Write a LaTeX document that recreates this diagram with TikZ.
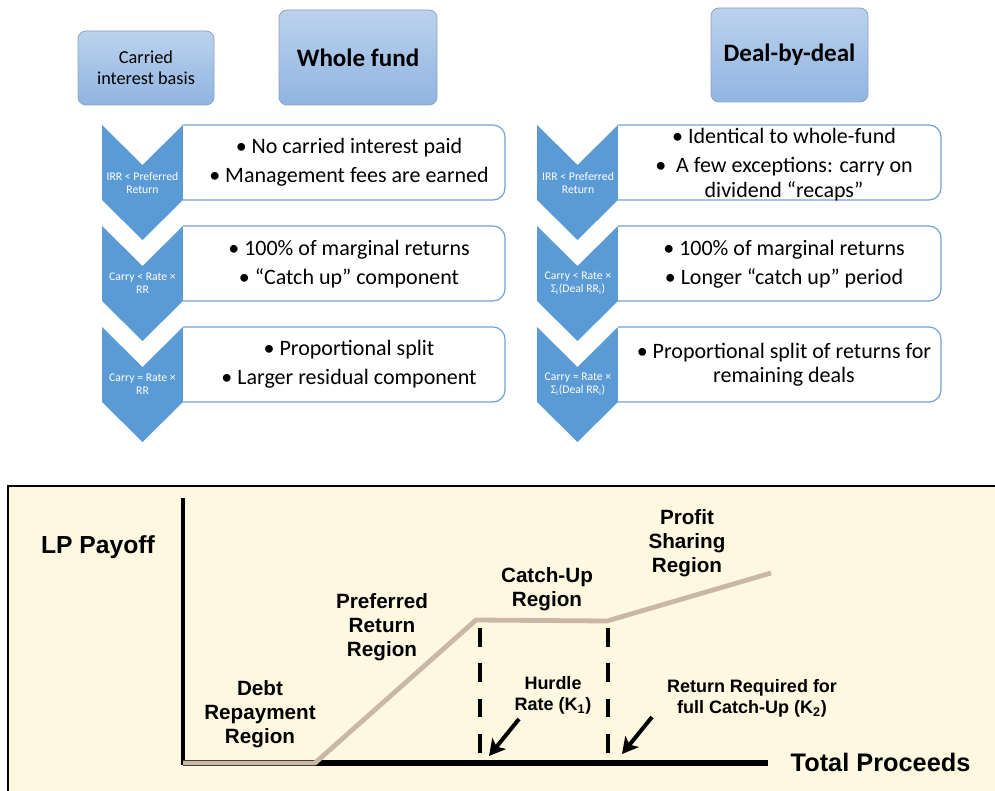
\documentclass[tikz,border=0pt]{standalone}
\usepackage{fontspec}
\setmainfont{Carlito}
\newfontfamily\arialfont{Liberation Sans}
\usetikzlibrary{arrows.meta}

\definecolor{chevblue}{HTML}{5B9BD5}
\definecolor{boxline}{HTML}{6FA2D8}
\definecolor{headtop}{HTML}{BBD2ED}
\definecolor{headbot}{HTML}{90B4E1}
\definecolor{headline}{HTML}{8DA3BF}
\definecolor{cream}{HTML}{FEF8E1}
\definecolor{payoff}{HTML}{C9B8A3}

\tikzset{
  headbox/.style={draw=headline, line width=0.6pt, top color=headtop, bottom color=headbot,
    rounded corners=6pt, align=center, inner sep=0pt},
  chevtext/.style={text=white, align=center, font=\fontsize{8.8pt}{9.8pt}\selectfont},
  boxtext/.style={align=center, font=\fontsize{16.5pt}{21.75pt}\selectfont},
  charttext/.style={align=center, font=\arialfont\bfseries\fontsize{15.5pt}{18pt}\selectfont},
  smalltext/.style={align=center, font=\arialfont\bfseries\fontsize{13.5pt}{15.75pt}\selectfont},
  pointer/.style={line width=3pt, -{Stealth[length=12pt,width=13pt,inset=3pt]}},
  guide/.style={line width=3pt, dash pattern=on 14pt off 12.5pt},
  % chevron step: 81 wide, notch 40 deep, point 40 below the body
  chevron/.pic={\fill[chevblue] (0,0) -- (40.5,40) -- (81,0) -- (81,75) -- (40.5,115) -- (0,75) -- cycle;},
  % list panel, open on its left side where it meets the chevron
  panel/.pic={\draw[boxline, line width=0.9pt, fill=white, rounded corners=9pt]
      (0,0) -- (#1,0) -- (#1,75) -- (0,75);},
}

\begin{document}
\begin{tikzpicture}[x=0.75pt,y=-0.75pt]
\useasboundingbox (0,0) rectangle (995,791);

% ---------- column headers ----------
\node[headbox, minimum width=102pt, minimum height=55.5pt,
      font=\fontsize{13.7pt}{16pt}\selectfont] (basis) at (146,68) {Carried\\interest basis};
\node[headbox, minimum width=118.5pt, minimum height=71.25pt,
      font=\bfseries\fontsize{18.8pt}{22pt}\selectfont] (whole) at (358,57.5) {Whole fund};
\node[headbox, minimum width=117.75pt, minimum height=70.5pt,
      font=\bfseries\fontsize{18.8pt}{22pt}\selectfont] (deal) at (789.5,55) {Deal-by-deal};

% ---------- whole-fund column ----------
\foreach \yy in {125,226,327} {
  \pic at (102,\yy) {chevron};
  \pic at (183,\yy) {panel=322};
}
\node[chevtext] (wc1) at (142.5,183) {IRR < Preferred\\Return};
\node[chevtext] (wc2) at (142.5,283) {Carry < Rate ×\\RR};
\node[chevtext] (wc3) at (142.5,384) {Carry = Rate ×\\RR};

\node[boxtext] (wb1) at (349,162.5) {\textbullet\ No carried interest paid\\\textbullet\ Management fees are earned};
\node[boxtext] (wb2) at (349,264) {\textbullet\ 100\% of marginal returns\\\textbullet\ “Catch up” component};
\node[boxtext] (wb3) at (349,364.5) {\textbullet\ Proportional split\\\textbullet\ Larger residual component};

% ---------- deal-by-deal column ----------
\foreach \yy in {125,226,327} {
  \pic at (537,\yy) {chevron};
  \pic at (618,\yy) {panel=323};
}
\node[chevtext] (dc1) at (578,183) {IRR < Preferred\\Return};
\node[chevtext] (dc2) at (578,283) {Carry < Rate ×\\Σ\textsubscript{i}(Deal RR\textsubscript{i})};
\node[chevtext] (dc3) at (578,384) {Carry = Rate ×\\Σ\textsubscript{i}(Deal RR\textsubscript{i})};

\node[boxtext, font=\fontsize{16.5pt}{18.75pt}\selectfont] (db1) at (784,165)
  {\textbullet\ Identical to whole-fund\\[3pt]\textbullet\ \ A few exceptions: carry on\\dividend “recaps”};
\node[boxtext] (db2) at (784,264) {\textbullet\ 100\% of marginal returns\\\textbullet\ Longer “catch up” period};
\node[boxtext, font=\fontsize{16.5pt}{18pt}\selectfont] (db3) at (784,364.5)
  {\textbullet\ Proportional split of returns for\\remaining deals};

% ---------- LP payoff chart ----------
\draw[line width=2.2pt, fill=cream] (8,486) rectangle (1010,800);

\coordinate (origin) at (183,763);
\coordinate (ytop) at (183,498);
\coordinate (xend) at (768,763);
\coordinate (debtend) at (315,763);
\coordinate (hurdle) at (476,620);
\coordinate (catchend) at (607,621);
\coordinate (shareend) at (771,573);

\draw[line width=3pt] (ytop) -- (183,765);
\draw[line width=4.5pt] (origin) -- (xend);
\draw[payoff, line width=3.6pt, line join=round]
  (origin) -- (debtend) -- (hurdle) -- (catchend) -- (shareend);

\coordinate (k1top) at (480,628);
\coordinate (k1bot) at (480,757);
\coordinate (k2top) at (608,628);
\coordinate (k2bot) at (608,757);
\draw[guide] (k1top) -- (k1bot);
\draw[guide] (k2top) -- (k2bot);

\node[font=\arialfont\bfseries\fontsize{18.5pt}{22pt}\selectfont] (ylabel) at (98,547) {LP Payoff};
\node[font=\arialfont\bfseries\fontsize{19pt}{22pt}\selectfont, anchor=west] (xlabel) at (786,762) {Total Proceeds};

\node[charttext] (debt) at (260,714) {Debt\\Repayment\\Region};
\node[charttext] (pref) at (382,627) {Preferred\\Return\\Region};
\node[charttext] (catch) at (547,589) {Catch-Up\\Region};
\node[charttext] (profit) at (687,543) {Profit\\Sharing\\Region};

\node[smalltext] (k1) at (553,695) {Hurdle\\Rate (K\textsubscript{1})};
\node[smalltext] (k2) at (752,698) {Return Required for\\full Catch-Up (K\textsubscript{2})};

\coordinate (a1from) at (519,719);
\coordinate (a1to) at (489,756);
\coordinate (a2from) at (652,717);
\coordinate (a2to) at (622,754);
\draw[pointer] (a1from) -- (a1to);
\draw[pointer] (a2from) -- (a2to);
\end{tikzpicture}
\end{document}
